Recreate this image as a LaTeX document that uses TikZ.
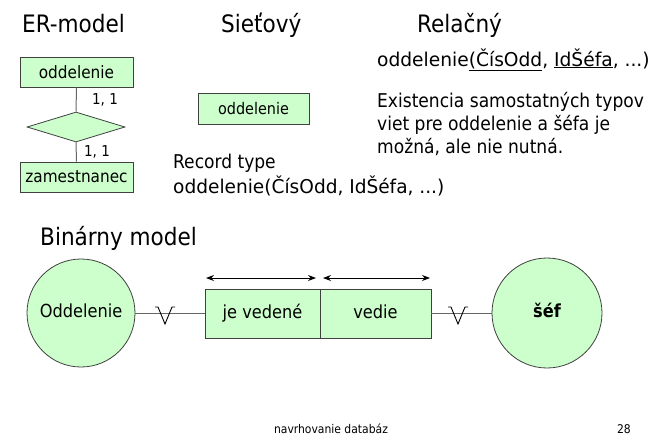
\documentclass[tikz,border=0pt]{standalone}
\usepackage{fontspec}
\setmainfont{DejaVu Sans Condensed}
\usetikzlibrary{shapes.geometric,arrows.meta}
\definecolor{boxfill}{HTML}{CCFFCC}
\definecolor{edge}{HTML}{404040}
\tikzset{
  ebox/.style={draw=edge,fill=boxfill,line width=0.8pt,inner sep=0pt,font=\fontsize{17}{19}\selectfont},
  bbox/.style={draw=edge,fill=boxfill,line width=0.8pt,inner sep=0pt,minimum width=113pt,minimum height=49pt,text height=13pt,text depth=4pt,font=\fontsize{18}{20}\selectfont},
  ent/.style={circle,draw=edge,fill=boxfill,line width=0.8pt,inner sep=0pt,minimum size=108pt,text height=13pt,text depth=4pt,font=\fontsize{18}{20}\selectfont},
  conn/.style={draw=gray!80!black,line width=1pt},
  head/.style={anchor=base west,inner sep=0pt,font=\fontsize{24}{28}\selectfont},
  txt/.style={anchor=base west,inner sep=0pt,font=\fontsize{19}{22}\selectfont},
  card/.style={inner sep=0pt,font=\fontsize{15}{17}\selectfont},
  dimarrow/.style={{Stealth[length=8pt,width=6pt]}-{Stealth[length=8pt,width=6pt]},line width=0.9pt},
  vsym/.style={draw=black,line width=0.9pt}
}
\begin{document}
\begin{tikzpicture}[x=1pt,y=-1pt]
\useasboundingbox (0,0) rectangle (661,437);
% headings
\node[head] (h1) at (22,32) {ER-model};
\node[head] (h2) at (221,32) {Sieťový};
\node[head] (h3) at (417,32) {Relačný};
% ER model
\node[ebox,minimum width=113pt,minimum height=30pt] (er1) at (76.5,72) {oddelenie};
\node[diamond,draw=edge,fill=boxfill,line width=0.8pt,inner sep=0pt,aspect=3.27,minimum width=98pt,minimum height=30pt] (rel) at (76,127) {};
\node[ebox,minimum width=113pt,minimum height=30pt] (er2) at (76.5,177) {zamestnanec};
\draw[conn] (er1.south) -- (rel.north);
\draw[conn] (rel.south) -- (er2.north);
\node[card] (c1) at (105,100) {1, 1};
\node[card] (c2) at (97,152) {1, 1};
% network
\node[ebox,minimum width=111pt,minimum height=31pt,font=\fontsize{16}{18}\selectfont] (net) at (253.5,108.5) {oddelenie};
\node[txt] (rt1) at (173,168) {Record type};
\node[txt] (rt2) at (173,193) {\scalebox{1.085}[1]{oddelenie(ČísOdd, IdŠéfa, ...)}};
% relational
\node[txt] (r1) at (377,66) {\scalebox{1.09}[1]{oddelenie\underline{(ČísOdd}, \underline{IdŠéfa}, ...)}};
\node[txt] (r2) at (377,107) {Existencia samostatných typov};
\node[txt] (r3) at (377,130) {viet pre oddelenie a šéfa je};
\node[txt] (r4) at (377,153) {možná, ale nie nutná.};
% binary model
\node[head] (h4) at (40,245) {Binárny model};
\node[ent] (odd) at (81,313) {Oddelenie};
\node[bbox,minimum width=115pt] (jv) at (262.5,313.5) {je vedené};
\node[bbox,minimum width=111pt] (ve) at (375.5,313.5) {vedie};
\node[ent,minimum size=110pt] (sef) at (547,313) {\bfseries šéf};
\draw[conn] (odd.east) -- (jv.west |- odd.east);
\draw[conn] (ve.east |- sef.west) -- (sef.west);
\coordinate (v1) at (165,313);
\coordinate (v2) at (458,313);
\foreach \v in {v1,v2}{
  \draw[vsym] ([xshift=-10pt,yshift=6pt]\v) -- ([xshift=-7pt,yshift=6pt]\v) -- ([yshift=-11pt]\v) -- ([xshift=7pt,yshift=6pt]\v) -- ([xshift=10pt,yshift=6pt]\v);
}
\coordinate (a1) at (206,278);
\coordinate (a2) at (316,278);
\coordinate (a3) at (323,278);
\coordinate (a4) at (430,278);
\draw[dimarrow] (a1) -- (a2);
\draw[dimarrow] (a3) -- (a4);
% footer
\node[anchor=base,inner sep=0pt,font=\fontsize{12}{14}\selectfont] (f1) at (331,433) {navrhovanie databáz};
\node[anchor=base east,inner sep=0pt,font=\fontsize{12}{14}\selectfont] (f2) at (631,433) {28};
\end{tikzpicture}
\end{document}
